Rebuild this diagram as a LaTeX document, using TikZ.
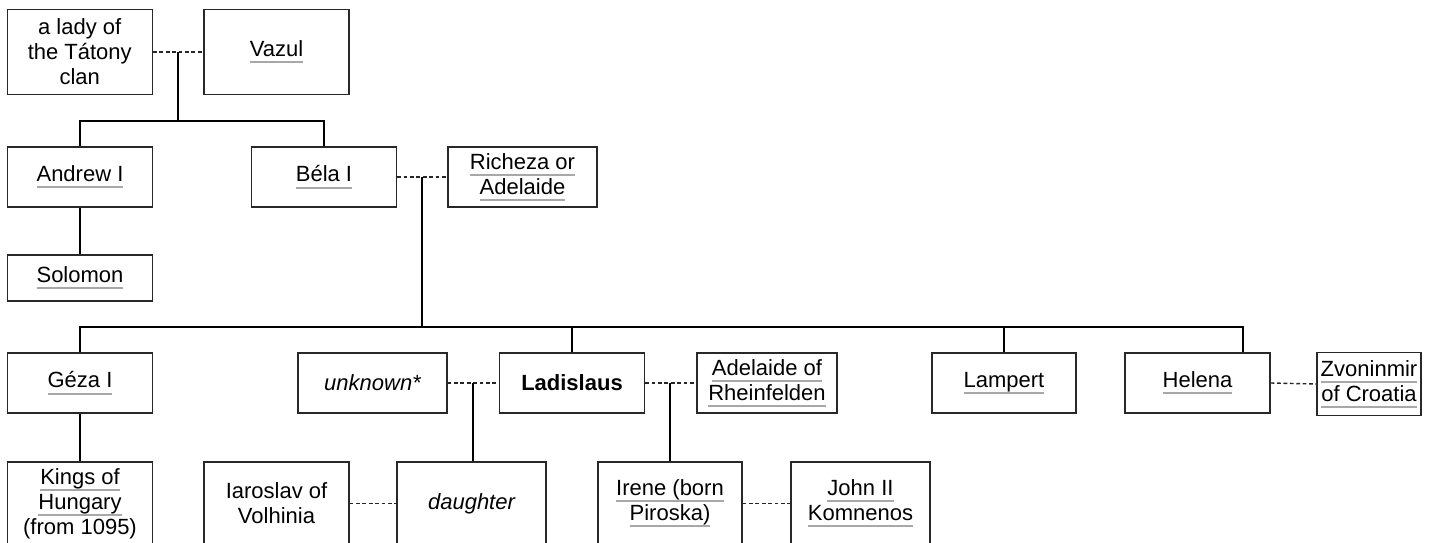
\documentclass[tikz,border=0pt]{standalone}
\usepackage{fontspec}
\setmainfont{Liberation Sans}
\usetikzlibrary{calc}
\definecolor{ulgray}{RGB}{168,168,168}
\definecolor{boxline}{RGB}{40,40,40}
\newcommand\lk[1]{\setbox0\hbox{#1}\rlap{\textcolor{ulgray}{\rule[-6.8pt]{\wd0}{1.9pt}}}\box0}
\begin{document}
\begin{tikzpicture}[x=1pt,y=-1pt,
  pbox/.style={draw=boxline,line width=1.3pt,rectangle,inner sep=0pt,align=center,
    font=\fontsize{22}{25}\selectfont},
  kin/.style={line width=2pt,line cap=butt},
  wed/.style={line width=1.4pt,dash pattern=on 3.8pt off 2.6pt,draw=black!85}]
\useasboundingbox (0,0) rectangle (1434,543);
\clip (0,0) rectangle (1434,543);
% row 1
\node[pbox,minimum width=145,minimum height=85] (lady) at (79.75,52) {a lady of\\the Tátony\\clan};
\node[pbox,minimum width=145,minimum height=85] (vazul) at (276.5,52) {\lk{Vazul}};
% row 2
\node[pbox,minimum width=145,minimum height=60] (andrew) at (80,177) {\lk{Andrew I}};
\node[pbox,minimum width=145,minimum height=60] (bela) at (324,177) {\lk{Béla I}};
\node[pbox,minimum width=149,minimum height=60] (richeza) at (522.5,177) {\lk{Richeza or}\\\lk{Adelaide}};
\node[pbox,minimum width=145,minimum height=46] (solomon) at (80,278) {\lk{Solomon}};
% row 3
\node[pbox,minimum width=145,minimum height=60] (geza) at (80,383) {\lk{Géza I}};
\node[pbox,minimum width=149,minimum height=60] (unknown) at (372.5,383) {\itshape unknown*};
\node[pbox,minimum width=145,minimum height=60] (ladislaus) at (572,383) {\bfseries Ladislaus};
\node[pbox,minimum width=140,minimum height=60] (adelaide) at (767,383) {\lk{Adelaide of}\\\lk{Rheinfelden}};
\node[pbox,minimum width=144,minimum height=60] (lampert) at (1004,383) {\lk{Lampert}};
\node[pbox,minimum width=145,minimum height=60] (helena) at (1197.5,383) {\lk{Helena}};
\node[pbox,minimum width=104,minimum height=63] (zvon) at (1369,384) {\lk{Zvoninmir}\\\lk{of Croatia}};
% row 4
\node[pbox,minimum width=145,minimum height=83] (kings) at (80,503.5) {\lk{Kings of}\\\lk{Hungary}\\(from 1095)};
\node[pbox,minimum width=145,minimum height=83] (iaroslav) at (276.5,503.5) {Iaroslav of\\Volhinia};
\node[pbox,minimum width=149,minimum height=83] (daughter) at (471.5,503.5) {\itshape daughter};
\node[pbox,minimum width=144,minimum height=83] (irene) at (670,503.5) {\lk{Irene (born}\\\lk{Piroska)}};
\node[pbox,minimum width=139,minimum height=83] (john) at (860.5,503.5) {\lk{John II}\\\lk{Komnenos}};
% marriages
\draw[wed] (lady.east) -- (vazul.west);
\draw[wed] (bela.east) -- (richeza.west);
\draw[wed] (unknown.east) -- (ladislaus.west);
\draw[wed] (ladislaus.east) -- (adelaide.west);
\draw[wed] (helena.east) -- (zvon.west);
\draw[wed] (iaroslav.east) -- (daughter.west);
\draw[wed] (irene.east) -- (john.west);
\coordinate (m1) at ($(lady.east)!.5!(vazul.west)$);
\coordinate (m2) at ($(bela.east)!.5!(richeza.west)$);
\coordinate (m3) at ($(unknown.east)!.5!(ladislaus.west)$);
\coordinate (m4) at (irene.north |- ladislaus.east);
\coordinate (hb) at (1243,327);
% descent
\draw[kin] (m1) -- (m1 |- 0,121);
\draw[kin] (andrew.north) |- (0,121 -| bela.north) -- (bela.north);
\draw[kin] (andrew.south) -- (solomon.north);
\draw[kin] (m2) -- (m2 |- hb);
\draw[kin] (geza.north) |- (hb) -- (hb |- helena.north);
\draw[kin] (ladislaus.north) -- (ladislaus.north |- hb);
\draw[kin] (lampert.north) -- (lampert.north |- hb);
\draw[kin] (geza.south) -- (kings.north);
\draw[kin] (m3) -- (m3 |- daughter.north);
\draw[kin] (m4) -- (m4 |- irene.north);
\end{tikzpicture}
\end{document}
